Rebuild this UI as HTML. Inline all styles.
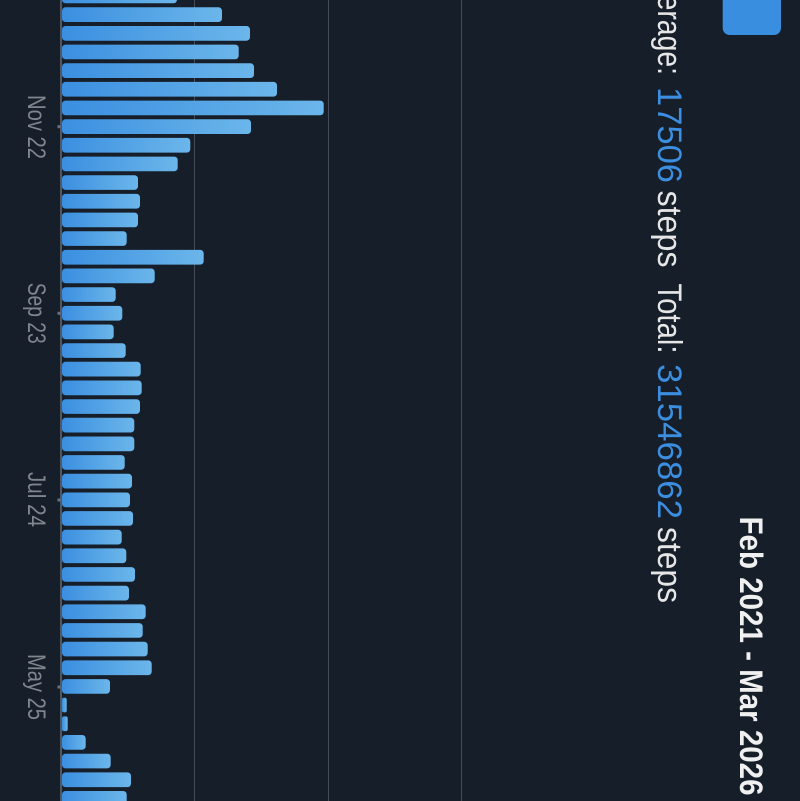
<!DOCTYPE html>
<html>
<head>
<meta charset="utf-8">
<style>
  html, body { margin:0; padding:0; background:#161e29; }
  body { width:800px; height:801px; overflow:hidden; }
  svg { display:block; }
  text { font-family: "Liberation Sans", sans-serif; }
</style>
</head>
<body>
<svg width="800" height="801" viewBox="0 0 800 801" xmlns="http://www.w3.org/2000/svg">
  <defs>
    <linearGradient id="bg" x1="0" y1="0" x2="1" y2="0">
      <stop offset="0" stop-color="#3b8fe0"/>
      <stop offset="1" stop-color="#6bb6ea"/>
    </linearGradient>
  </defs>
  <rect x="0" y="0" width="800" height="801" fill="#161e29"/>

  <rect x="194" y="0" width="1" height="801" fill="#454c58"/>
  <rect x="328" y="0" width="1" height="801" fill="#454c58"/>
  <rect x="461" y="0" width="1" height="801" fill="#454c58"/>

  <g fill="url(#bg)">
    <rect x="62" y="-11.4" width="115" height="14.7" rx="3.5"/>
    <rect x="62" y="7.3" width="160" height="14.7" rx="3.5"/>
    <rect x="62" y="26.0" width="188" height="14.7" rx="3.5"/>
    <rect x="62" y="44.6" width="176.7" height="14.7" rx="3.5"/>
    <rect x="62" y="63.3" width="192" height="14.7" rx="3.5"/>
    <rect x="62" y="81.9" width="215" height="14.7" rx="3.5"/>
    <rect x="62" y="100.6" width="261.7" height="14.7" rx="3.5"/>
    <rect x="62" y="119.3" width="189" height="14.7" rx="3.5"/>
    <rect x="62" y="137.9" width="128.3" height="14.7" rx="3.5"/>
    <rect x="62" y="156.6" width="115.7" height="14.7" rx="3.5"/>
    <rect x="62" y="175.2" width="76" height="14.7" rx="3.5"/>
    <rect x="62" y="193.9" width="78" height="14.7" rx="3.5"/>
    <rect x="62" y="212.6" width="76" height="14.7" rx="3.5"/>
    <rect x="62" y="231.2" width="64.7" height="14.7" rx="3.5"/>
    <rect x="62" y="249.9" width="141.7" height="14.7" rx="3.5"/>
    <rect x="62" y="268.5" width="92.7" height="14.7" rx="3.5"/>
    <rect x="62" y="287.2" width="53.7" height="14.7" rx="3.5"/>
    <rect x="62" y="305.9" width="60.3" height="14.7" rx="3.5"/>
    <rect x="62" y="324.5" width="51.7" height="14.7" rx="3.5"/>
    <rect x="62" y="343.2" width="63.7" height="14.7" rx="3.5"/>
    <rect x="62" y="361.8" width="78.7" height="14.7" rx="3.5"/>
    <rect x="62" y="380.5" width="79.7" height="14.7" rx="3.5"/>
    <rect x="62" y="399.2" width="78" height="14.7" rx="3.5"/>
    <rect x="62" y="417.8" width="72.3" height="14.7" rx="3.5"/>
    <rect x="62" y="436.5" width="72.3" height="14.7" rx="3.5"/>
    <rect x="62" y="455.1" width="62.7" height="14.7" rx="3.5"/>
    <rect x="62" y="473.8" width="70" height="14.7" rx="3.5"/>
    <rect x="62" y="492.5" width="68" height="14.7" rx="3.5"/>
    <rect x="62" y="511.1" width="71" height="14.7" rx="3.5"/>
    <rect x="62" y="529.8" width="59.7" height="14.7" rx="3.5"/>
    <rect x="62" y="548.4" width="64.3" height="14.7" rx="3.5"/>
    <rect x="62" y="567.1" width="73" height="14.7" rx="3.5"/>
    <rect x="62" y="585.8" width="67" height="14.7" rx="3.5"/>
    <rect x="62" y="604.4" width="83.7" height="14.7" rx="3.5"/>
    <rect x="62" y="623.1" width="80.7" height="14.7" rx="3.5"/>
    <rect x="62" y="641.7" width="85.7" height="14.7" rx="3.5"/>
    <rect x="62" y="660.4" width="89.7" height="14.7" rx="3.5"/>
    <rect x="62" y="679.1" width="48" height="14.7" rx="3.5"/>
    <rect x="62" y="697.7" width="4.7" height="14.7" rx="2"/>
    <rect x="62" y="716.4" width="5.7" height="14.7" rx="2"/>
    <rect x="62" y="735.0" width="23.7" height="14.7" rx="3.5"/>
    <rect x="62" y="753.7" width="48.7" height="14.7" rx="3.5"/>
    <rect x="62" y="772.4" width="69" height="14.7" rx="3.5"/>
    <rect x="62" y="791.0" width="64.7" height="14.7" rx="3.5"/>
  </g>

  <rect x="60" y="0" width="2" height="801" fill="#505864"/>
  <g fill="#6b727d">
    <rect x="57.5" y="125.2" width="3" height="3"/>
    <rect x="57.5" y="311.8" width="3" height="3"/>
    <rect x="57.5" y="498.5" width="3" height="3"/>
    <rect x="57.5" y="685.5" width="3" height="3"/>
  </g>

  <g fill="#80868e" font-size="25">
    <text transform="translate(28,95) rotate(90)" textLength="64" lengthAdjust="spacingAndGlyphs">Nov 22</text>
    <text transform="translate(28,282.7) rotate(90)" textLength="61" lengthAdjust="spacingAndGlyphs">Sep 23</text>
    <text transform="translate(28,472) rotate(90)" textLength="55" lengthAdjust="spacingAndGlyphs">Jul 24</text>
    <text transform="translate(28,654) rotate(90)" textLength="66" lengthAdjust="spacingAndGlyphs">May 25</text>
  </g>

  <g font-size="34">
    <text transform="translate(658,-38) rotate(90)" fill="#e6e6e6" textLength="113" lengthAdjust="spacingAndGlyphs">Average:</text>
    <text transform="translate(658,87) rotate(90)" fill="#3b8ee0" textLength="96" lengthAdjust="spacingAndGlyphs">17506</text>
    <text transform="translate(658,190.5) rotate(90)" fill="#e6e6e6" textLength="77" lengthAdjust="spacingAndGlyphs">steps</text>
    <text transform="translate(658,283.5) rotate(90)" fill="#e6e6e6" textLength="70" lengthAdjust="spacingAndGlyphs">Total:</text>
    <text transform="translate(658,364) rotate(90)" fill="#3b8ee0" textLength="155" lengthAdjust="spacingAndGlyphs">31546862</text>
    <text transform="translate(658,527) rotate(90)" fill="#e6e6e6" textLength="76" lengthAdjust="spacingAndGlyphs">steps</text>
  </g>

  <text transform="translate(740,516.5) rotate(90)" fill="#f0f0f0" font-size="32" font-weight="bold" textLength="279" lengthAdjust="spacingAndGlyphs">Feb 2021 - Mar 2026</text>

  <rect x="722.7" y="-12" width="58.3" height="47" rx="7" fill="#3a8ee0"/>
</svg>
</body>
</html>
